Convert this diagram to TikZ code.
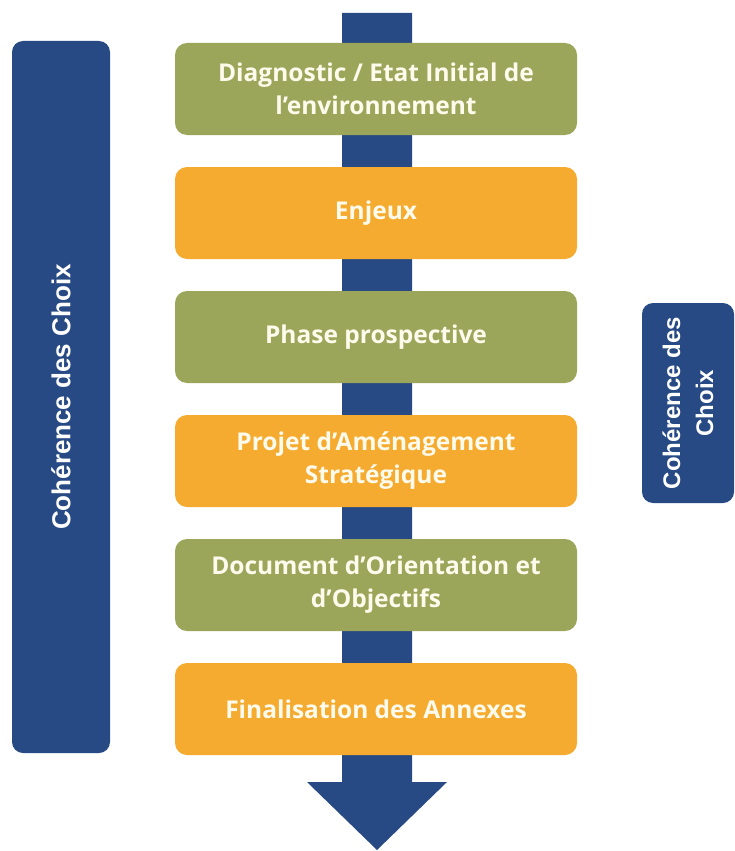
\documentclass[tikz,border=0pt]{standalone}
\usepackage{fontspec}
\setmainfont{Open Sans}
\newfontfamily\sidefont{Liberation Sans}
\usetikzlibrary{positioning}

\definecolor{olivebox}{HTML}{9BA65B}
\definecolor{orangebox}{HTML}{F5AB2F}
\definecolor{navybar}{HTML}{284A84}
\definecolor{boxtext}{HTML}{FFFBEC}

\begin{document}
\begin{tikzpicture}[x=1pt, y=-1pt,
  stage/.style={rounded corners=12pt, minimum width=402pt, minimum height=92pt,
    align=center, text=boxtext, font=\fontsize{24.5}{33}\selectfont\bfseries},
  greenstage/.style={stage, fill=olivebox},
  orangestage/.style={stage, fill=orangebox},
  sidebar/.style={rounded corners=11pt, fill=navybar, text=white, rotate=90,
    align=center, font=\sidefont\fontsize{26}{31}\selectfont\bfseries},
  node distance=31.6pt]
  \useasboundingbox (0,0) rectangle (735,851);

  % big arrow behind the stages
  \fill[navybar] (342,13) -- (412,13) -- (412,782) -- (447,782)
    -- (377,850) -- (307,782) -- (342,782) -- cycle;

  \node[greenstage] (diag) at (376,89) {Diagnostic / Etat Initial de\\l’environnement};
  \node[orangestage, below=of diag] (enjeux) {Enjeux};
  \node[greenstage, below=of enjeux] (prosp) {Phase prospective};
  \node[orangestage, below=of prosp] (pas) {Projet d’Aménagement\\Stratégique};
  \node[greenstage, below=of pas] (doo) {Document d’Orientation et\\d’Objectifs};
  \node[orangestage, below=of doo] (annexes) {Finalisation des Annexes};

  % coherence labels
  \node[sidebar, minimum width=712pt, minimum height=98pt] (choixleft) at (61,397) {Cohérence des Choix};
  \node[sidebar, minimum width=200pt, minimum height=92pt,
    font=\sidefont\fontsize{24}{33}\selectfont\bfseries] (choixright) at (688,403) {Cohérence des\\Choix};
\end{tikzpicture}
\end{document}
